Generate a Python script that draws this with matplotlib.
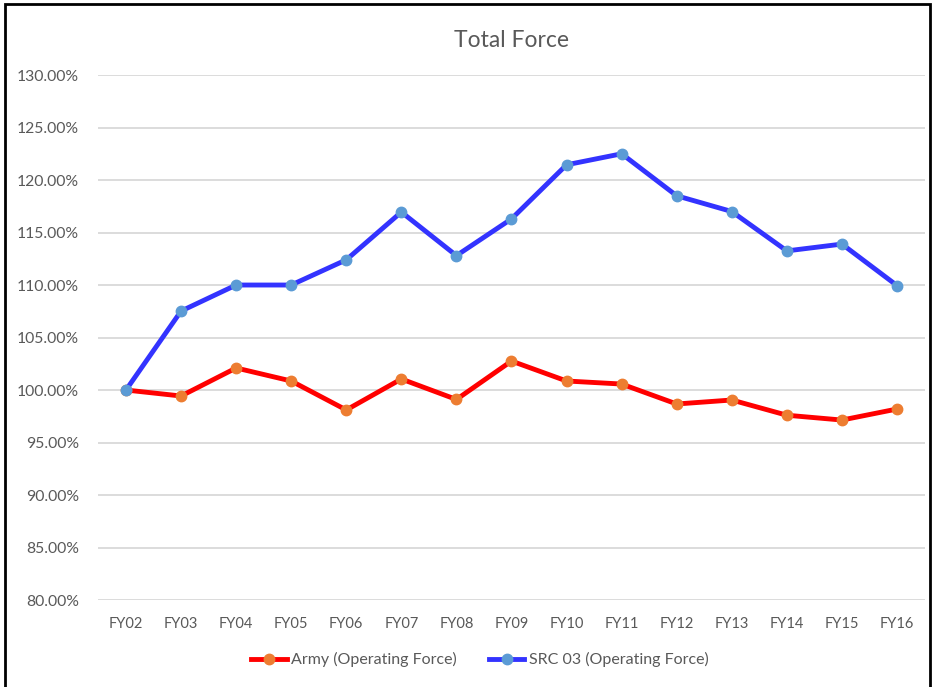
import matplotlib
matplotlib.use("Agg")
import matplotlib.pyplot as plt
from matplotlib.patches import Rectangle
from matplotlib.ticker import FuncFormatter

years = ["FY02", "FY03", "FY04", "FY05", "FY06", "FY07", "FY08", "FY09",
         "FY10", "FY11", "FY12", "FY13", "FY14", "FY15", "FY16"]
army = [100.0, 99.43, 102.1, 100.86, 98.1, 101.05, 99.1, 102.76,
        100.86, 100.57, 98.67, 99.05, 97.6, 97.14, 98.19]
src03 = [100.0, 107.52, 110.0, 110.0, 112.4, 116.95, 112.8, 116.3,
         121.45, 122.5, 118.5, 117.0, 113.25, 113.9, 109.95]

plt.rcParams['font.family'] = ['Lato', 'DejaVu Sans']
text_col = '#595959'

fig = plt.figure(figsize=(9.35, 6.87), dpi=100)
ax = fig.add_axes([0.1053, 0.1266, 0.8835, 0.7642])

x = range(len(years))
ax.plot(x, army, color='#FF0000', lw=3.5, marker='o', ms=7.5,
        mfc='#ED7D31', mec='#ED7D31', label='Army (Operating Force)', zorder=3)
ax.plot(x, src03, color='#3333FF', lw=3.5, marker='o', ms=7.5,
        mfc='#5B9BD5', mec='#5B9BD5', label='SRC 03 (Operating Force)', zorder=3)

ax.set_xlim(-0.5, len(years) - 0.5)
ax.set_ylim(80, 130)
ax.set_yticks(range(80, 131, 5))
ax.yaxis.set_major_formatter(FuncFormatter(lambda v, p: "%.2f%%" % v))
ax.set_xticks(list(x))
ax.set_xticklabels(years)
ax.grid(axis='y', color='#D9D9D9', lw=1.3)
ax.set_axisbelow(True)
for s in ax.spines.values():
    s.set_visible(False)
ax.tick_params(axis='x', length=0, labelsize=10.5, colors=text_col, pad=12)
ax.tick_params(axis='y', length=0, labelsize=11.3, colors=text_col, pad=14)

ax.set_title("Total Force", fontsize=16.5, color=text_col, pad=20)

ax.legend(loc='upper center', bbox_to_anchor=(0.462, -0.072), ncol=2,
          frameon=False, fontsize=11.5, labelcolor=text_col,
          handlelength=2.2, columnspacing=2.0, handletextpad=0.3)

fig.patches.append(Rectangle((5 / 935, -0.05), 925 / 935, 1.05 - 4 / 687,
                             transform=fig.transFigure, fill=False,
                             edgecolor='black', lw=2))

fig.savefig("out.png", dpi=100)
